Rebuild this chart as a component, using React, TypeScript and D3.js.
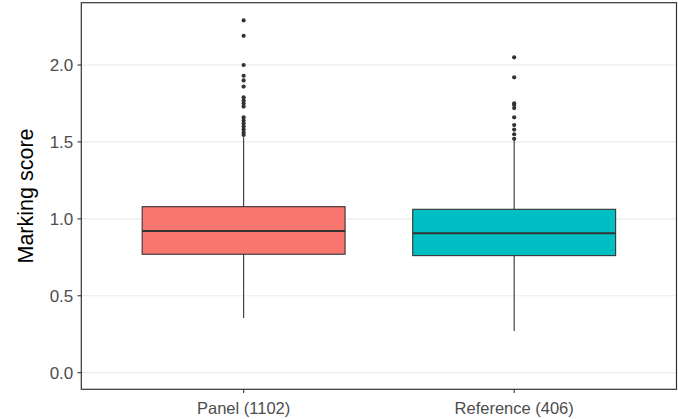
import React from "react";
import * as d3 from "d3";

const categories = ["Panel (1102)", "Reference (406)"];
const fills = ["#F8766D", "#00BFC4"];
const q1 = [0.77, 0.761];
const medians = [0.921, 0.906];
const q3 = [1.079, 1.062];
const whiskerLow = [0.355, 0.271];
const whiskerHigh = [1.53, 1.51];
const panelOutliers = [2.29, 2.19, 2.0, 1.93, 1.9, 1.86, 1.79, 1.77, 1.75, 1.73, 1.66, 1.64, 1.62, 1.6, 1.58, 1.56, 1.545];
const referenceOutliers = [2.05, 1.92, 1.75, 1.74, 1.72, 1.66, 1.61, 1.58, 1.55, 1.52];
const outliers = [panelOutliers, referenceOutliers];
const yTicks = [0, 0.5, 1.0, 1.5, 2.0];
const yTitle = "Marking score";

const W = 678;
const H = 419;
const L = 81.3;
const R = 676.5;
const T = 2.7;
const B = 389.3;

export default function App() {
  const x = d3.scalePoint<string>().domain(categories).range([L, R]).padding(0.6);
  const step = x.step();
  const boxW = step * 0.75;
  const y = d3.scaleLinear().domain([-0.108, 2.405]).range([B, T]);
  const font = "'Liberation Sans', Arial, Helvetica, sans-serif";
  const dark = "#333333";

  return (
    <svg width={W} height={H} style={{ position: "absolute", left: 0, top: 0, background: "#fff" }} fontFamily={font}>
      <rect x={0} y={0} width={W} height={H} fill="#fff" />
      {yTicks.map((t) => (
        <line key={"g" + t} x1={L} x2={R} y1={y(t)} y2={y(t)} stroke="#EBEBEB" strokeWidth={1.2} />
      ))}
      {categories.map((c, i) => {
        const cx = x(c)!;
        return (
          <g key={c}>
            <line x1={cx} x2={cx} y1={y(q3[i])} y2={y(whiskerHigh[i])} stroke={dark} strokeWidth={1.1} />
            <line x1={cx} x2={cx} y1={y(q1[i])} y2={y(whiskerLow[i])} stroke={dark} strokeWidth={1.1} />
            <rect
              x={cx - boxW / 2}
              y={y(q3[i])}
              width={boxW}
              height={y(q1[i]) - y(q3[i])}
              fill={fills[i]}
              stroke={dark}
              strokeWidth={1.1}
            />
            <line x1={cx - boxW / 2} x2={cx + boxW / 2} y1={y(medians[i])} y2={y(medians[i])} stroke={dark} strokeWidth={2} />
            {outliers[i].map((v, j) => (
              <circle key={j} cx={cx} cy={y(v)} r={2.1} fill={dark} />
            ))}
          </g>
        );
      })}
      <rect x={L} y={T} width={R - L} height={B - T} fill="none" stroke={dark} strokeWidth={1.2} />
      {yTicks.map((t) => (
        <g key={"y" + t}>
          <line x1={L - 3.8} x2={L} y1={y(t)} y2={y(t)} stroke={dark} strokeWidth={1.1} />
          <text x={L - 8} y={y(t)} dy="0.36em" textAnchor="end" fontSize={17} fill="#4D4D4D">
            {d3.format(".1f")(t)}
          </text>
        </g>
      ))}
      {categories.map((c) => (
        <g key={"x" + c}>
          <line x1={x(c)!} x2={x(c)!} y1={B} y2={B + 3.8} stroke={dark} strokeWidth={1.1} />
          <text x={x(c)!} y={414.3} textAnchor="middle" fontSize={16.5} fill="#4D4D4D">
            {c}
          </text>
        </g>
      ))}
      <text
        transform={`translate(${32.5},${(T + B) / 2}) rotate(-90)`}
        textAnchor="middle"
        fontSize={21.5}
        fill="#000"
      >
        {yTitle}
      </text>
    </svg>
  );
}
